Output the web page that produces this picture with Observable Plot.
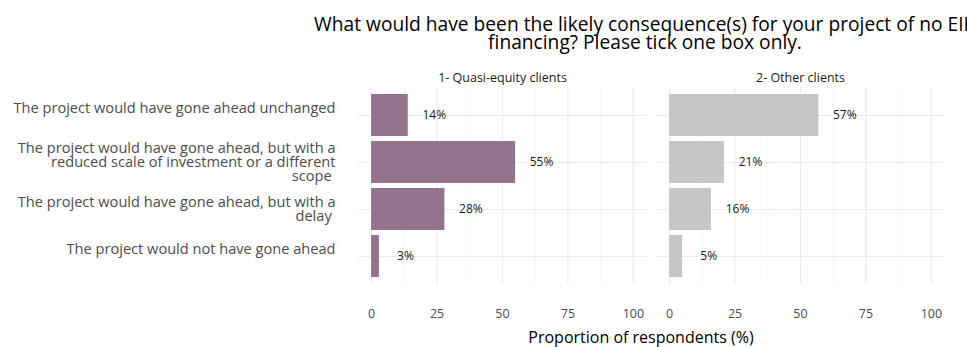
<!DOCTYPE html>
<html>
<head>
<meta charset="utf-8">
<script src="https://cdn.jsdelivr.net/npm/d3@7"></script>
<script src="https://cdn.jsdelivr.net/npm/@observablehq/plot@0.6"></script>
<style>
  html, body { margin: 0; padding: 0; background: #fff; }
  #wrap { position: relative; width: 967px; height: 347px; overflow: hidden; font-family: 'Open Sans', sans-serif; }
  #title { position: absolute; left: 145px; width: 1000px; top: 15px; font-size: 19.2px; line-height: 18px; text-align: center; color: #000; white-space: nowrap; }
  #xtitle { position: absolute; left: 341px; width: 600px; top: 329px; font-size: 16px; line-height: 16px; text-align: center; color: #000; }
  #chart { position: absolute; left: 0; top: 0; }
</style>
</head>
<body>
<div id="wrap">
  <div id="chart"></div>
  <div id="title">What would have been the likely consequence(s) for your project of no EIB<br>financing? Please tick one box only.</div>
  <div id="xtitle">Proportion of respondents (%)</div>
</div>
<script>
const clients = ["1- Quasi-equity clients", "2- Other clients"];
const categories = [
  "The project would have gone ahead unchanged",
  "The project would have gone ahead, but with a reduced scale of investment or a different scope",
  "The project would have gone ahead, but with a delay",
  "The project would not have gone ahead"
];
const categoryLabels = [
  "The project would have gone ahead unchanged\n",
  "The project would have gone ahead, but with a\nreduced scale of investment or a different\nscope ",
  "The project would have gone ahead, but with a\ndelay ",
  "The project would not have gone ahead\n"
];
const quasiEquityValues = [14, 55, 28, 3];
const otherClientValues = [57, 21, 16, 5];
const xTicks = [0, 25, 50, 75, 100];
const xMinorTicks = [12.5, 37.5, 62.5, 87.5];
const clientColors = ["#94738d", "#c6c6c6"];

const seriesByClient = [quasiEquityValues, otherClientValues];
const data = clients.flatMap((c, ci) =>
  categories.map((cat, i) => ({client: c, category: cat, value: seriesByClient[ci][i]}))
);

const chart = Plot.plot({
  width: 967,
  height: 347,
  marginLeft: 358,
  marginRight: 23,
  marginTop: 87,
  marginBottom: 63,
  style: {fontFamily: "'Open Sans', sans-serif", background: "transparent"},
  fx: {domain: clients, padding: 0.034, label: null},
  x: {domain: [-5, 105]},
  y: {domain: categories, paddingInner: 0.1, paddingOuter: 0.145},
  color: {domain: clients, range: clientColors},
  marks: [
    Plot.ruleX(xMinorTicks, {stroke: "#f3f3f3", strokeWidth: 0.7}),
    Plot.ruleX(xTicks, {stroke: "#ebebeb", strokeWidth: 1.1}),
    Plot.ruleY(categories, {stroke: "#ebebeb", strokeWidth: 1.1}),
    Plot.barX(data, {x: "value", y: "category", fx: "client", fill: "client"}),
    Plot.text(data, {x: "value", y: "category", fx: "client", text: d => `${d.value}%`, dx: 26, fontSize: 12, fill: "#1a1a1a"}),
    Plot.axisY({tickSize: 0, tickPadding: 23, tickFormat: d => categoryLabels[categories.indexOf(d)], fontSize: 14.6, lineHeight: 0.95, color: "#4d4d4d", label: null}),
    Plot.axisX({ticks: xTicks, tickSize: 0, tickPadding: 25, fontSize: 12.5, color: "#4d4d4d", label: null}),
    Plot.axisFx({anchor: "top", tickSize: 0, tickPadding: 6, fontSize: 12.5, color: "#1a1a1a", label: null})
  ]
});
document.getElementById("chart").appendChild(chart);
</script>
</body>
</html>
